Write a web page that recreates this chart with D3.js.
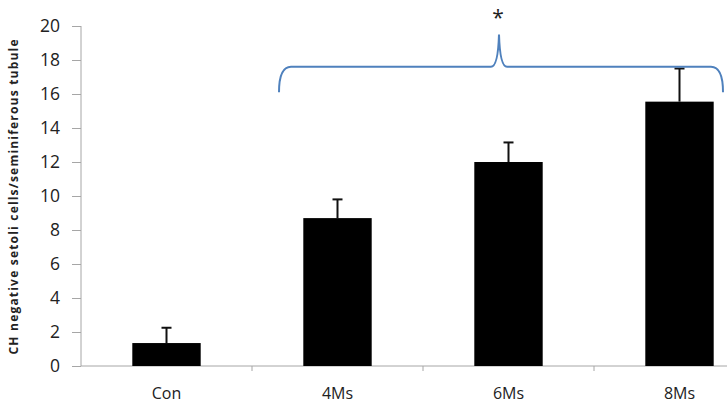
<!DOCTYPE html>
<meta charset="utf-8">
<style>
    body { margin: 0; background: #fff; }
    text { font-family: "Open Sans", sans-serif; fill: #222; }
    .axis path, .axis line { stroke: #a6a6a6; }
</style>
<body>
<div id="chart"></div>
<script src="https://d3js.org/d3.v7.min.js"></script>
<script>
    var categories = ["Con", "4Ms", "6Ms", "8Ms"];
    var means = [1.35, 8.7, 12.0, 15.55];
    var errors = [0.9, 1.1, 1.15, 1.95];
    var yTicks = [0, 2, 4, 6, 8, 10, 12, 14, 16, 18, 20];

    var width = 727,
        height = 406,
        x0 = 81,
        bandW = 171;

    var svg = d3.select("#chart").append("svg")
        .attr("width", width)
        .attr("height", height);

    var y = d3.scaleLinear().domain([0, 20]).range([366, 26]);
    var x = d3.scaleBand()
        .domain(categories)
        .range([x0, x0 + bandW * categories.length])
        .paddingInner(0.6)
        .paddingOuter(0.3);

    // y axis
    var yAxis = svg.append("g")
        .attr("class", "axis")
        .attr("transform", "translate(" + x0 + ",0)")
        .call(d3.axisLeft(y).tickValues(yTicks).tickSize(9).tickPadding(12));
    yAxis.selectAll("text")
        .attr("font-size", null)
        .style("font-size", "17.5px")
        .attr("fill", "#333");
    yAxis.attr("font-size", 17.5);
    yAxis.select(".domain").attr("d", "M0,26V366");

    // x axis
    var xAxis = svg.append("g")
        .attr("class", "axis")
        .attr("transform", "translate(0," + y(0) + ")");
    xAxis.append("line")
        .attr("x1", x0).attr("x2", width).attr("y1", 0).attr("y2", 0)
        .attr("stroke", "#a6a6a6");
    xAxis.selectAll(".tk")
        .data(categories.slice(1))
        .enter().append("line")
        .attr("x1", function (d) { return x(d) - x.step() * x.paddingInner() / 2; })
        .attr("x2", function (d) { return x(d) - x.step() * x.paddingInner() / 2; })
        .attr("y1", 0).attr("y2", 5)
        .attr("stroke", "#a6a6a6");
    xAxis.selectAll(".lbl")
        .data(categories)
        .enter().append("text")
        .attr("x", function (d) { return x(d) + x.bandwidth() / 2; })
        .attr("y", 33)
        .attr("text-anchor", "middle")
        .style("font-size", "16px")
        .text(function (d) { return d; });

    // bars
    svg.selectAll(".bar")
        .data(means)
        .enter().append("rect")
        .attr("x", function (d, i) { return x(categories[i]); })
        .attr("width", x.bandwidth())
        .attr("y", function (d) { return y(d); })
        .attr("height", function (d) { return y(0) - y(d); })
        .attr("fill", "#000");

    // error bars (upper only)
    var eb = svg.selectAll(".err")
        .data(means)
        .enter().append("g");
    eb.append("line")
        .attr("x1", function (d, i) { return x(categories[i]) + x.bandwidth() / 2; })
        .attr("x2", function (d, i) { return x(categories[i]) + x.bandwidth() / 2; })
        .attr("y1", function (d) { return y(d); })
        .attr("y2", function (d, i) { return y(d + errors[i]); })
        .attr("stroke", "#111").attr("stroke-width", 2);
    eb.append("line")
        .attr("x1", function (d, i) { return x(categories[i]) + x.bandwidth() / 2 - 5; })
        .attr("x2", function (d, i) { return x(categories[i]) + x.bandwidth() / 2 + 5; })
        .attr("y1", function (d, i) { return y(d + errors[i]); })
        .attr("y2", function (d, i) { return y(d + errors[i]); })
        .attr("stroke", "#111").attr("stroke-width", 2);

    // bracket over 4Ms..8Ms
    var bx1 = 279, bx2 = 723, bm = 499;
    var by = y(17.6), bBot = y(16.1), bTop = y(19.5);
    var p = d3.path();
    p.moveTo(bx1, bBot);
    p.quadraticCurveTo(bx1, by, bx1 + 12, by);
    p.lineTo(bm - 8, by);
    p.quadraticCurveTo(bm - 1, by, bm, bTop);
    p.quadraticCurveTo(bm + 1, by, bm + 8, by);
    p.lineTo(bx2 - 12, by);
    p.quadraticCurveTo(bx2, by, bx2, bBot);
    svg.append("path")
        .attr("d", p.toString())
        .attr("fill", "none")
        .attr("stroke", "#4f81bd")
        .attr("stroke-width", 2);
    svg.append("text")
        .attr("x", bm - 1)
        .attr("y", 25)
        .attr("text-anchor", "middle")
        .style("font-size", "21px")
        .text("*");

    // y axis title
    svg.append("text")
        .attr("transform", "translate(18,197) rotate(-90)")
        .attr("text-anchor", "middle")
        .style("font-size", "12px")
        .style("font-weight", "bold")
        .attr("textLength", 315)
        .text("CH negative setoli cells/seminiferous tubule");
</script>
</body>
